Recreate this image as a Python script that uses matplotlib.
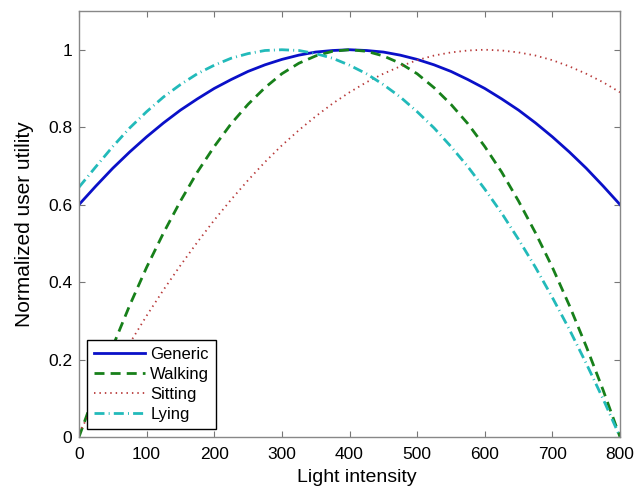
import matplotlib
matplotlib.use("Agg")
import matplotlib.pyplot as plt

# values, every 25 units of light intensity
light = [0, 25, 50, 75, 100, 125, 150, 175, 200, 225, 250, 275, 300, 325, 350, 375, 400,
         425, 450, 475, 500, 525, 550, 575, 600, 625, 650, 675, 700, 725, 750, 775, 800]
generic = [0.600, 0.648, 0.694, 0.736, 0.775, 0.811, 0.844, 0.873, 0.900, 0.923, 0.944,
           0.961, 0.975, 0.986, 0.994, 0.998, 1.000, 0.998, 0.994, 0.986, 0.975, 0.961,
           0.944, 0.923, 0.900, 0.873, 0.844, 0.811, 0.775, 0.736, 0.694, 0.648, 0.600]
walking = [0.000, 0.121, 0.234, 0.340, 0.438, 0.527, 0.609, 0.684, 0.750, 0.809, 0.859,
           0.902, 0.938, 0.965, 0.984, 0.996, 1.000, 0.996, 0.984, 0.965, 0.938, 0.902,
           0.859, 0.809, 0.750, 0.684, 0.609, 0.527, 0.438, 0.340, 0.234, 0.121, 0.000]
sitting = [0.010, 0.091, 0.168, 0.242, 0.313, 0.380, 0.443, 0.503, 0.560, 0.613, 0.663,
           0.710, 0.753, 0.792, 0.828, 0.861, 0.890, 0.916, 0.938, 0.957, 0.973, 0.985,
           0.993, 0.998, 1.000, 0.998, 0.993, 0.985, 0.973, 0.957, 0.938, 0.916, 0.890]
lying = [0.645, 0.698, 0.750, 0.798, 0.840, 0.878, 0.910, 0.938, 0.960, 0.978, 0.990,
         0.998, 1.000, 0.998, 0.990, 0.978, 0.960, 0.938, 0.910, 0.878, 0.840, 0.798,
         0.750, 0.698, 0.640, 0.578, 0.510, 0.438, 0.360, 0.278, 0.190, 0.098, 0.000]

xticks = [0, 100, 200, 300, 400, 500, 600, 700, 800]
yticks = [0, 0.2, 0.4, 0.6, 0.8, 1.0]
ytick_labels = ["0", "0.2", "0.4", "0.6", "0.8", "1"]

plt.rcParams['font.family'] = ['Liberation Sans', 'DejaVu Sans']

fig = plt.figure(figsize=(6.4, 4.91), dpi=100)
ax = fig.add_axes([0.1234, 0.110, 0.8454, 0.8676])

ax.plot(light, generic, color='#0a10c8', linewidth=2.0, label='Generic')
ax.plot(light, walking, color='#17801a', linewidth=2.0,
        linestyle=(0, (3.6, 2.2)), label='Walking')
ax.plot(light, sitting, color='#b83a3a', linewidth=1.3,
        linestyle=(0, (0.8, 2.2)), label='Sitting')
ax.plot(light, lying, color='#22baba', linewidth=2.0,
        linestyle=(0, (3.6, 1.5, 0.35, 1.5)), label='Lying')

ax.set_xlim(0, 800)
ax.set_ylim(0, 1.1)
ax.set_xticks(xticks)
ax.set_yticks(yticks)
ax.set_yticklabels(ytick_labels)
ax.tick_params(direction='in', top=True, right=True, length=4,
               color='#777777', labelsize=12.5)
ax.tick_params(axis='x', pad=7)
ax.tick_params(axis='y', pad=5)
for spine in ax.spines.values():
    spine.set_color('#888888')
    spine.set_linewidth(1.0)

ax.set_xlabel('Light intensity', fontsize=14, labelpad=4)
ax.xaxis.set_label_coords(0.513, -0.075)
ax.set_ylabel('Normalized user utility', fontsize=15, labelpad=10)

leg = ax.legend(loc='lower left', bbox_to_anchor=(0.014, 0.019), borderaxespad=0,
                fontsize=12, handlelength=3.1, handletextpad=0.3,
                labelspacing=0.3, borderpad=0.42, fancybox=False, framealpha=1)
leg.get_frame().set_edgecolor('black')
leg.get_frame().set_linewidth(1.0)

fig.savefig('out.png', dpi=100, facecolor='white')
plt.close(fig)
